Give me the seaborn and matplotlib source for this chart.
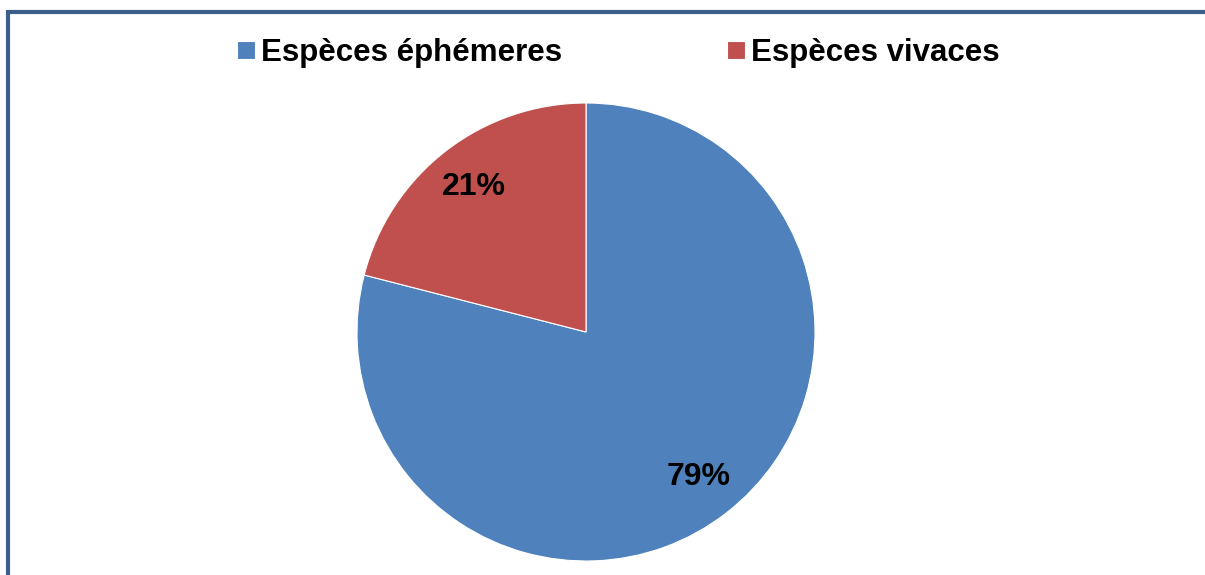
import matplotlib
matplotlib.use("Agg")
import matplotlib.pyplot as plt
import matplotlib.patches as mpatches
import seaborn as sns

# data
categories = ["Espèces éphémeres", "Espèces vivaces"]
shares = [79, 21]
colors = ["#4F81BD", "#C0504D"]

sns.set_theme(style="white")
plt.rcParams['font.family'] = ['Liberation Sans', 'DejaVu Sans']

W, H = 1205, 575
fig = plt.figure(figsize=(W / 100, H / 100), dpi=100)
fig.patch.set_facecolor("white")

# pie axes: centre (586, 332), radius 229 px
cx, cy, r = 586, 332, 229
ax = fig.add_axes([(cx - r) / W, (H - cy - r) / H, 2 * r / W, 2 * r / H])
wedges, texts, autotexts = ax.pie(
    shares, colors=colors, startangle=90, counterclock=False,
    autopct='%d%%', pctdistance=0.8,
    wedgeprops=dict(edgecolor="white", linewidth=0.8),
    textprops=dict(fontsize=23, fontweight="bold", color="black"))
ax.set_xlim(-1, 1)
ax.set_ylim(-1, 1)
ax.set_aspect("equal")
ax.axis("off")

# legend across the top
leg = fig.legend(wedges, categories, loc="center left",
                 bbox_to_anchor=(237 / W, 1 - 53 / H), ncol=2, frameon=False,
                 prop=dict(size=22.5, weight="bold"), labelcolor="black",
                 handlelength=0.58, handleheight=0.52, handletextpad=0.2,
                 columnspacing=5.25, borderpad=0, borderaxespad=0)

# chart area border (clipped at right and bottom like the reference)
border = mpatches.Rectangle((8 / W, -0.2), 1.5, 1.2 - 11.5 / H,
                            transform=fig.transFigure, fill=False,
                            edgecolor="#3B5E8C", linewidth=3.0, clip_on=False)
fig.patches.append(border)

fig.savefig("out.png", dpi=100, facecolor="white")
